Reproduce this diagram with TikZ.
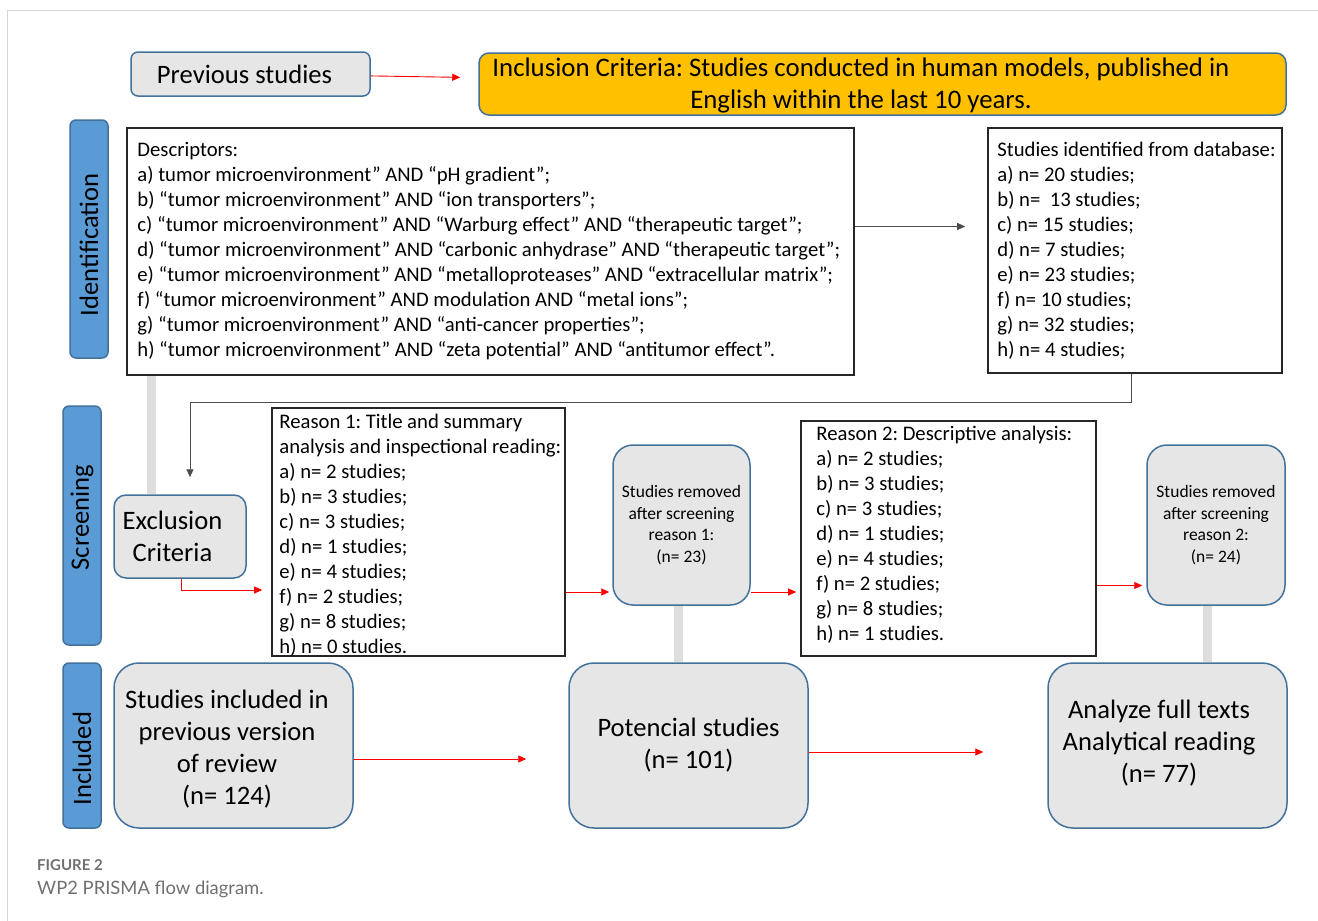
\documentclass[tikz,border=0pt]{standalone}
\usepackage{fontspec}
\setmainfont{Carlito}
\newfontfamily\capfont{Lato}
\usetikzlibrary{arrows.meta,positioning,backgrounds}
\definecolor{PBlue}{HTML}{5B9BD5}
\definecolor{PEdge}{HTML}{41719C}
\definecolor{PGray}{HTML}{E7E6E6}
\definecolor{PAmber}{HTML}{FFC000}
\definecolor{PRed}{HTML}{FF0000}
\definecolor{PBar}{HTML}{DEDEDE}
\definecolor{PFrame}{HTML}{D6D6D6}
\definecolor{PCaption}{HTML}{707070}
\frenchspacing

\begin{document}
\begin{tikzpicture}[
  x=1pt,y=-1pt,
  every node/.style={inner sep=0pt,font=\fontsize{20.7}{25}\selectfont},
  lane/.style={draw=PEdge,fill=PBlue,line width=1.5pt,rounded corners=6pt,
    rotate=90,minimum height=38pt,font=\fontsize{26.6}{30}\selectfont},
  softbox/.style={draw=PEdge,fill=PGray,line width=1.5pt,align=center,
    font=\fontsize{26.6}{32}\selectfont},
  bigtext/.style={align=center,font=\fontsize{26.6}{32}\selectfont},
  listbox/.style={draw=black!85,fill=white,line width=1.6pt},
  listtext/.style={anchor=west,align=left},
  arr/.style={-{Triangle[length=8pt,width=7pt]},line width=0.9pt,color=PRed},
  blkarr/.style={-{Triangle[length=8pt,width=7pt]},line width=0.9pt,color=black!70},
  bar/.style={line width=9pt,color=PBar}
]
  \useasboundingbox (0,0) rectangle (1318,921);
  \draw[PFrame,line width=1pt] (7,921) -- (7,10) -- (1318,10);

  % lanes
  \node[lane,minimum width=238pt] (laneid) at (89,239) {Identification\hspace*{12pt}};
  \node[lane,minimum width=239pt] (lanesc) at (82,525.5) {\hspace*{16pt}Screening};
  \node[lane,minimum width=165pt] (lanein) at (82,745.5) {Included\hspace*{26pt}};

  % top row
  \node[softbox,rounded corners=7pt,minimum width=239pt,minimum height=44pt]
    (prev) at (250.5,74) {Previous studies\hspace*{12pt}};
  \node[softbox,fill=PAmber,rounded corners=10pt,minimum width=807pt,
    minimum height=62pt] (crit) at (882.5,84) {};
  \node[bigtext,font=\fontsize{26.8}{32}\selectfont] (crittext) at (861,85)
    {Inclusion Criteria: Studies conducted in human models, published in\\
     English within the last 10 years.};

  % identification
  \node[listbox,minimum width=727pt,minimum height=247pt] (desc) at (490.5,251.5) {};
  \node[listtext] (desctext) at ([xshift=11pt]desc.west)
    {Descriptors:\\
     a) tumor microenvironment” AND “pH gradient”;\\
     b) “tumor microenvironment” AND “ion transporters”;\\
     c) “tumor microenvironment” AND “Warburg effect” AND “therapeutic target”;\\
     d) “tumor microenvironment” AND “carbonic anhydrase” AND “therapeutic target”;\\
     e) “tumor microenvironment” AND “metalloproteases” AND “extracellular matrix”;\\
     f) “tumor microenvironment” AND modulation AND “metal ions”;\\
     g) “tumor microenvironment” AND “anti-cancer properties”;\\
     h) “tumor microenvironment” AND “zeta potential” AND “antitumor effect”.};
  \node[listbox,minimum width=294pt,minimum height=245pt] (ident) at (1135,250.5) {};
  \node[listtext] (identtext) at ([xshift=10pt]ident.west)
    {Studies identified from database:\\
     a) n= 20 studies;\\
     b) n=\ \ 13 studies;\\
     c) n= 15 studies;\\
     d) n= 7 studies;\\
     e) n= 23 studies;\\
     f) n= 10 studies;\\
     g) n= 32 studies;\\
     h) n= 4 studies;};

  % screening
  \node[softbox,rounded corners=12pt,minimum width=132pt,minimum height=83pt]
    (excl) at (180,536.5) {Exclusion\hspace*{15pt}\\Criteria\hspace*{15pt}};
  \node[listbox,minimum width=293pt,minimum height=248pt] (rsn1) at (418.5,532) {};
  \node[listtext] (rsn1text) at ([xshift=8pt,yshift=-3pt]rsn1.west)
    {Reason 1: Title and summary\\
     analysis and inspectional reading:\\
     a) n= 2 studies;\\
     b) n= 3 studies;\\
     c) n= 3 studies;\\
     d) n= 1 studies;\\
     e) n= 4 studies;\\
     f) n= 2 studies;\\
     g) n= 8 studies;\\
     h) n= 0 studies.};
  \node[softbox,rounded corners=20pt,minimum width=137pt,minimum height=160pt,
    font=\fontsize{17.5}{21.5}\selectfont] (rem1) at (681.5,525)
    {Studies removed\\after screening\\reason 1:\\(n= 23)};
  \node[listbox,minimum width=295pt,minimum height=235pt] (rsn2) at (948.5,538.5) {};
  \node[listtext] (rsn2text) at ([xshift=16pt,yshift=4pt]rsn2.west)
    {Reason 2: Descriptive analysis:\\
     a) n= 2 studies;\\
     b) n= 3 studies;\\
     c) n= 3 studies;\\
     d) n= 1 studies;\\
     e) n= 4 studies;\\
     f) n= 2 studies;\\
     g) n= 8 studies;\\
     h) n= 1 studies.};
  \node[softbox,rounded corners=20pt,minimum width=138pt,minimum height=160pt,
    font=\fontsize{17.5}{21.5}\selectfont] (rem2) at (1216,525)
    {Studies removed\\after screening\\reason 2:\\(n= 24)};

  % included
  \node[softbox,rounded corners=25pt,minimum width=239pt,minimum height=165pt]
    (prevrev) at (233.5,745.5) {};
  \node[bigtext] (prevrevtext) at (227,749)
    {Studies included in\\previous version\\of review\\(n= 124)};
  \node[softbox,rounded corners=25pt,minimum width=239pt,minimum height=165pt]
    (pot) at (688.5,745.5) {Potencial studies\\(n= 101)};
  \node[softbox,rounded corners=25pt,minimum width=239pt,minimum height=165pt]
    (anl) at (1167.5,745.5) {};
  \node[bigtext] (anltext) at (1159,743)
    {Analyze full texts\\Analytical reading\\(n= 77)};

  % grey links
  \begin{scope}[on background layer]
    \draw[bar] ([xshift=25pt]desc.south west) -- ([xshift=25pt]desc.south west |- excl.north);
    \draw[bar] ([xshift=-3pt]rem1.south) -- ([xshift=-3pt]rem1.south |- pot.north);
    \draw[bar] ([xshift=-9pt]rem2.south) -- ([xshift=-9pt]rem2.south |- anl.north);
  \end{scope}

  % connectors
  \draw[arr,shorten >=18pt] (prev) -- (crit);
  \draw[blkarr,shorten >=22pt] ([yshift=25pt]desc.east) -- ([yshift=25pt]desc.east -| ident.west);
  \draw[blkarr,shorten >=17pt] ([xshift=-4pt]ident.south) -- ++(0,29) -| ([xshift=10pt]excl.north);
  \draw[arr,shorten >=9pt] ([xshift=1pt]excl.south) |- ([yshift=-58pt]rsn1.west);
  \draw[arr,shorten >=3pt] ([yshift=-60pt]rsn1.east) -- ([yshift=-60pt]rsn1.east -| rem1.west);
  \draw[arr,shorten >=4pt] ([yshift=-67pt]rem1.east) -- ([yshift=-67pt]rem1.east -| rsn2.west);
  \draw[arr,shorten >=4pt] ([yshift=-47pt]rsn2.east) -- ([yshift=-47pt]rsn2.east -| rem2.west);
  \draw[arr,shorten >=42pt] ([yshift=-13.5pt]prevrev.east) -- ([yshift=-13.5pt]prevrev.east -| pot.west);
  \draw[arr,shorten >=64pt] ([yshift=-6.5pt]pot.east) -- ([yshift=-6.5pt]pot.east -| anl.west);

  % caption
  \node[anchor=west,text=PCaption,font=\capfont\bfseries\fontsize{15}{17}\selectfont]
    (fignum) at (37,865) {FIGURE 2};
  \node[anchor=west,text=PCaption,font=\capfont\fontsize{18.4}{21}\selectfont]
    (figcap) at (37,889) {WP2 PRISMA flow diagram.};
\end{tikzpicture}
\end{document}
